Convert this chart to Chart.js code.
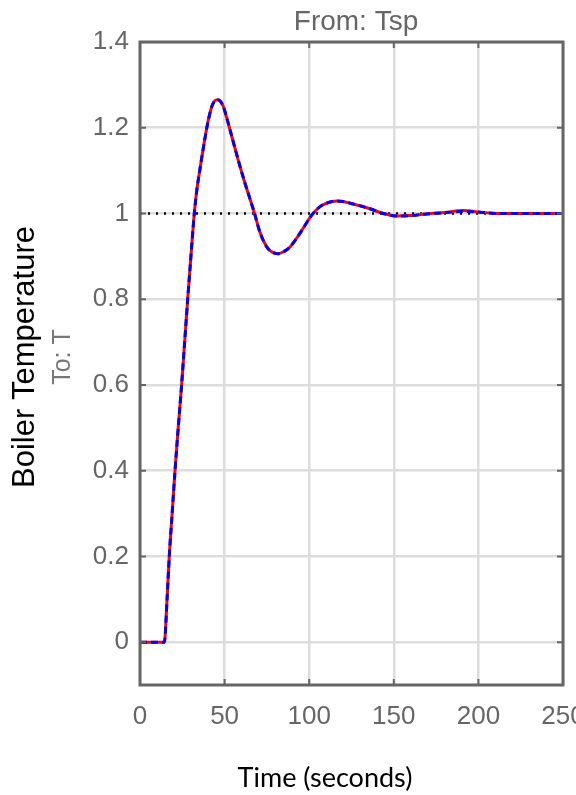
<!DOCTYPE html>
<html>
<head>
<meta charset="utf-8">
<script src="https://cdn.jsdelivr.net/npm/chart.js@4.4.0/dist/chart.umd.min.js"></script>
<style>
html, body { margin: 0; padding: 0; background: #fff; }
#wrap { width: 576px; height: 795px; }
</style>
</head>
<body>
<div id="wrap"><canvas id="step-chart"></canvas></div>
<script>
// step response (time in seconds, boiler temperature)
var timeS = [0, 14.4, 16, 17.3, 19, 20.7, 22.6, 24.6, 26.4, 28.2, 30.1, 32.1, 33.6, 35.5, 38.6, 40.4, 42.4, 44, 45.9, 47.6, 49.2, 51.2, 53, 55.2, 58.1, 62.1, 65, 67.7,
	70.9, 74.9, 78, 81.8, 85, 88.7, 94.6, 101.5, 106.4, 111, 116.3, 120, 124.1, 130, 135.9, 143.8, 151.7, 159.6, 169.4, 181.3, 191, 201, 210.9, 225, 250];
var measuredT = [0, 0, 0.1, 0.2, 0.3, 0.4, 0.5, 0.6, 0.7, 0.8, 0.9, 1.0, 1.055, 1.105, 1.18, 1.218, 1.249, 1.262, 1.265, 1.261, 1.25, 1.224, 1.198, 1.166, 1.124, 1.07, 1.034, 1.0,
	0.956, 0.922, 0.91, 0.906, 0.911, 0.922, 0.954, 0.996, 1.016, 1.025, 1.029, 1.028, 1.024, 1.018, 1.011, 1.0, 0.994, 0.995, 0.999, 1.003, 1.007, 1.003, 1.0, 1.0, 1.0];
var modelT = [0, 0, 0.1, 0.2, 0.3, 0.4, 0.5, 0.6, 0.7, 0.8, 0.9, 1.0, 1.055, 1.105, 1.18, 1.218, 1.249, 1.262, 1.265, 1.261, 1.25, 1.224, 1.198, 1.166, 1.124, 1.07, 1.034, 1.0,
	0.956, 0.922, 0.91, 0.906, 0.911, 0.922, 0.954, 0.996, 1.016, 1.025, 1.029, 1.028, 1.024, 1.018, 1.011, 1.0, 0.994, 0.995, 0.999, 1.002, 1.005, 1.003, 1.0, 1.0, 1.0];
var finalTime = [0, 250];
var finalT = [1, 1];

var xTicks = [0, 50, 100, 150, 200, 250];
var yTicks = [0, 0.2, 0.4, 0.6, 0.8, 1, 1.2, 1.4];

function points(xs, ys){
	return xs.map(function(x, i){ return {x: x, y: ys[i]}; });
}

var axisGray = '#666666';
var sans = '"Liberation Sans", Arial, sans-serif';

function label(ctx, text, x, y, font, color, vertical){
	ctx.save();
	ctx.translate(x, y);
	if (vertical){
		ctx.rotate(-Math.PI / 2);
	}
	ctx.font = font;
	ctx.fillStyle = color;
	ctx.textAlign = 'center';
	ctx.textBaseline = 'middle';
	ctx.fillText(text, 0, 0);
	ctx.restore();
}

// box round the axes, inward tick marks and the text labels
var frame = {
	id: 'frame',
	afterDatasetsDraw: function(chart){
		var ctx = chart.ctx;
		var a = chart.chartArea;
		var xs = chart.scales.x, ys = chart.scales.y;
		ctx.save();
		ctx.strokeStyle = axisGray;
		ctx.lineWidth = 2;
		xTicks.forEach(function(v){
			var px = xs.getPixelForValue(v);
			ctx.beginPath();
			ctx.moveTo(px, a.top); ctx.lineTo(px, a.top + 6);
			ctx.moveTo(px, a.bottom); ctx.lineTo(px, a.bottom - 6);
			ctx.stroke();
		});
		yTicks.forEach(function(v){
			var py = ys.getPixelForValue(v);
			ctx.beginPath();
			ctx.moveTo(a.left, py); ctx.lineTo(a.left + 6, py);
			ctx.moveTo(a.right, py); ctx.lineTo(a.right - 6, py);
			ctx.stroke();
		});
		ctx.lineWidth = 3;
		ctx.strokeRect(a.left, a.top, a.right - a.left, a.bottom - a.top);
		ctx.restore();
	},
	afterDraw: function(chart){
		var ctx = chart.ctx;
		label(ctx, 'From: Tsp', 356, 22, '28px ' + sans, '#666666', false);
		label(ctx, 'Time (seconds)', 325, 778, '27px Lato, "Open Sans", sans-serif', '#000000', false);
		label(ctx, 'Boiler Temperature', 25, 357, '31px ' + sans, '#000000', true);
		label(ctx, 'To: T', 63, 357, '25px ' + sans, '#777777', true);
	}
};

var ctx = document.getElementById('step-chart');
var stepChart = new Chart(ctx, {
	type: 'line',
	data: {
		datasets: [{
			data: points(finalTime, finalT),
			borderColor: '#000000',
			borderWidth: 2.5,
			borderDash: [2, 6],
			pointRadius: 0,
			tension: 0,
			order: 3
		}, {
			data: points(timeS, measuredT),
			borderColor: '#ff0000',
			borderWidth: 3,
			pointRadius: 0,
			cubicInterpolationMode: 'monotone',
			order: 2
		}, {
			data: points(timeS, modelT),
			borderColor: '#0000ff',
			borderWidth: 3,
			borderDash: [7, 4],
			pointRadius: 0,
			cubicInterpolationMode: 'monotone',
			order: 1
		}]
	},
	options: {
		responsive: true,
		maintainAspectRatio: false,
		animation: false,
		layout: { padding: { top: 42, right: 13, left: 0, bottom: 0 } },
		plugins: { legend: { display: false }, tooltip: { enabled: false } },
		scales: {
			x: {
				type: 'linear',
				min: 0,
				max: 250,
				afterBuildTicks: function(s){ s.ticks = xTicks.map(function(v){ return {value: v}; }); },
				afterFit: function(s){ s.height = 110; s.paddingLeft = 0; s.paddingRight = 0; },
				grid: { color: '#dddddd', lineWidth: 2.5, drawTicks: false },
				border: { display: false },
				ticks: {
					color: '#666666',
					font: { family: sans, size: 26 },
					padding: 16,
					maxRotation: 0,
					autoSkip: false,
					callback: function(v){ return String(v); }
				}
			},
			y: {
				type: 'linear',
				min: -0.1,
				max: 1.4,
				afterBuildTicks: function(s){ s.ticks = yTicks.map(function(v){ return {value: v}; }); },
				afterFit: function(s){ s.width = 140; s.paddingTop = 0; s.paddingBottom = 0; },
				grid: { color: '#dddddd', lineWidth: 2.5, drawTicks: false },
				border: { display: false },
				ticks: {
					color: '#666666',
					font: { family: sans, size: 26 },
					padding: 11,
					autoSkip: false,
					callback: function(v){ return String(v); }
				}
			}
		}
	},
	plugins: [frame]
});
</script>
</body>
</html>
